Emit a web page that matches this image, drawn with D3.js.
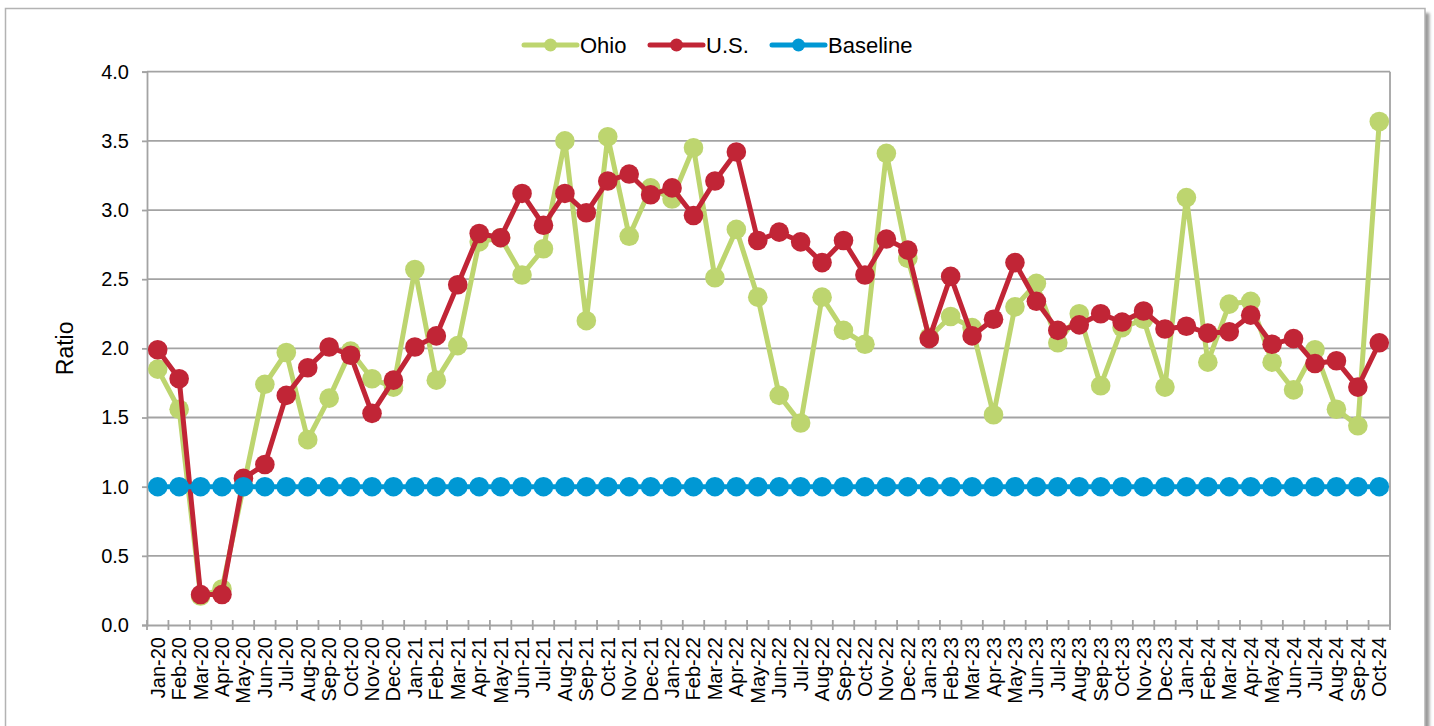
<!DOCTYPE html>
<html>
<head>
<meta charset="utf-8">
<script src="https://cdn.jsdelivr.net/npm/d3@7/dist/d3.min.js"></script>
<style>
  html, body { margin: 0; padding: 0; background: #ffffff; }
  svg { display: block; font-family: "Liberation Sans", Arial, sans-serif; }
</style>
</head>
<body>
<svg id="chart" width="1434" height="726"></svg>
<script>
// Monthly ratio, Jan 2020 – Oct 2024
const months = [
  "Jan-20","Feb-20","Mar-20","Apr-20","May-20","Jun-20","Jul-20","Aug-20","Sep-20","Oct-20","Nov-20","Dec-20",
  "Jan-21","Feb-21","Mar-21","Apr-21","May-21","Jun-21","Jul-21","Aug-21","Sep-21","Oct-21","Nov-21","Dec-21",
  "Jan-22","Feb-22","Mar-22","Apr-22","May-22","Jun-22","Jul-22","Aug-22","Sep-22","Oct-22","Nov-22","Dec-22",
  "Jan-23","Feb-23","Mar-23","Apr-23","May-23","Jun-23","Jul-23","Aug-23","Sep-23","Oct-23","Nov-23","Dec-23",
  "Jan-24","Feb-24","Mar-24","Apr-24","May-24","Jun-24","Jul-24","Aug-24","Sep-24","Oct-24"
];

const ohio = [
  1.85, 1.56, 0.21, 0.26, 1.00, 1.74, 1.97, 1.34, 1.64, 1.98, 1.78, 1.72,
  2.57, 1.77, 2.02, 2.77, 2.80, 2.53, 2.72, 3.50, 2.20, 3.53, 2.81, 3.16,
  3.08, 3.45, 2.51, 2.86, 2.37, 1.66, 1.46, 2.37, 2.13, 2.03, 3.41, 2.65,
  2.08, 2.23, 2.15, 1.52, 2.30, 2.47, 2.04, 2.25, 1.73, 2.15, 2.21, 1.72,
  3.09, 1.90, 2.32, 2.34, 1.90, 1.70, 1.99, 1.56, 1.44, 3.64
];

const us = [
  1.99, 1.78, 0.22, 0.22, 1.06, 1.16, 1.66, 1.86, 2.01, 1.95, 1.53, 1.77,
  2.01, 2.09, 2.46, 2.83, 2.80, 3.12, 2.89, 3.12, 2.98, 3.21, 3.26, 3.11,
  3.16, 2.96, 3.21, 3.42, 2.78, 2.84, 2.77, 2.62, 2.78, 2.53, 2.79, 2.71,
  2.07, 2.52, 2.09, 2.21, 2.62, 2.34, 2.13, 2.17, 2.25, 2.19, 2.27, 2.14,
  2.16, 2.11, 2.12, 2.24, 2.03, 2.07, 1.89, 1.91, 1.72, 2.04
];

const baseline = [
  1.0, 1.0, 1.0, 1.0, 1.0, 1.0, 1.0, 1.0, 1.0, 1.0, 1.0, 1.0,
  1.0, 1.0, 1.0, 1.0, 1.0, 1.0, 1.0, 1.0, 1.0, 1.0, 1.0, 1.0,
  1.0, 1.0, 1.0, 1.0, 1.0, 1.0, 1.0, 1.0, 1.0, 1.0, 1.0, 1.0,
  1.0, 1.0, 1.0, 1.0, 1.0, 1.0, 1.0, 1.0, 1.0, 1.0, 1.0, 1.0,
  1.0, 1.0, 1.0, 1.0, 1.0, 1.0, 1.0, 1.0, 1.0, 1.0
];

const yTicks = [0, 0.5, 1.0, 1.5, 2.0, 2.5, 3.0, 3.5, 4.0];

const seriesNames = ["Ohio", "U.S.", "Baseline"];
const seriesColors = ["#bdd56f", "#c12536", "#0098d4"];
const seriesValues = [ohio, us, baseline];

const series = seriesNames.map((name, i) => ({
  name, color: seriesColors[i], values: seriesValues[i]
}));

const svg = d3.select("#chart");
const W = 1434, H = 726;

// Frame with a soft shadow on the right
const defs = svg.append("defs");
defs.append("filter").attr("id", "shadow")
  .attr("x", "-5%").attr("y", "-5%").attr("width", "110%").attr("height", "110%")
  .append("feGaussianBlur").attr("stdDeviation", 1.6);

svg.append("rect")
  .attr("x", 9.5).attr("y", 13).attr("width", 1420).attr("height", 800)
  .attr("fill", "#9a9a9a").attr("filter", "url(#shadow)");
svg.append("rect")
  .attr("x", 5.5).attr("y", 8.5).attr("width", 1419.5).attr("height", 800)
  .attr("fill", "#ffffff").attr("stroke", "#b3b3b3").attr("stroke-width", 1.5);

const plot = { left: 147, right: 1390, top: 71.7, bottom: 625 };

const x = d3.scaleBand().domain(months).range([plot.left, plot.right]).padding(0);
const y = d3.scaleLinear().domain([0, 4]).range([plot.bottom, plot.top]);

const gridColor = "#a3a3a3";

// Horizontal gridlines
svg.append("g").selectAll("line")
  .data(yTicks.filter(d => d > 0))
  .join("line")
  .attr("x1", plot.left).attr("x2", plot.right)
  .attr("y1", d => y(d)).attr("y2", d => y(d))
  .attr("stroke", gridColor).attr("stroke-width", 1.8);

// Right edge of plot area
svg.append("line")
  .attr("x1", plot.right).attr("x2", plot.right)
  .attr("y1", plot.top).attr("y2", plot.bottom)
  .attr("stroke", gridColor).attr("stroke-width", 1.8);

// Y axis
const yAxis = svg.append("g")
  .attr("transform", `translate(${plot.left},0)`)
  .call(d3.axisLeft(y).tickValues(yTicks).tickFormat(d3.format(".1f")).tickSize(5).tickPadding(13));
yAxis.select(".domain").attr("stroke", gridColor).attr("stroke-width", 1.8);
yAxis.selectAll(".tick line").attr("stroke", gridColor).attr("stroke-width", 1.8);
yAxis.selectAll(".tick text")
  .attr("font-size", 20).attr("fill", "#000")
  .attr("font-family", "'Liberation Sans', Arial, sans-serif");

// X axis line with ticks crossing it at month boundaries
const xAxis = svg.append("g")
  .attr("transform", `translate(0,${plot.bottom})`)
  .call(d3.axisBottom(x).tickSize(0).tickPadding(0));
xAxis.select(".domain").attr("stroke", gridColor).attr("stroke-width", 1.8);
xAxis.selectAll(".tick text")
  .attr("font-size", 20).attr("fill", "#000")
  .attr("font-family", "'Liberation Sans', Arial, sans-serif")
  .attr("text-anchor", "end")
  .attr("transform", "translate(0,12) rotate(-90)")
  .attr("x", 0).attr("y", 0).attr("dy", "0.35em");

const boundaries = months.map(m => x(m)).concat([x(months[months.length - 1]) + x.bandwidth()]);
svg.append("g").selectAll("line")
  .data(boundaries)
  .join("line")
  .attr("x1", d => d).attr("x2", d => d)
  .attr("y1", plot.bottom - 5).attr("y2", plot.bottom + 5)
  .attr("stroke", gridColor).attr("stroke-width", 1.8);

// Y axis title
svg.append("text")
  .attr("transform", `translate(73,${(plot.top + plot.bottom) / 2}) rotate(-90)`)
  .attr("text-anchor", "middle")
  .attr("font-size", 23).attr("fill", "#000")
  .text("Ratio");

// Series
const line = d3.line()
  .x((d, i) => x(months[i]) + x.bandwidth() / 2)
  .y(d => y(d));

series.forEach(s => {
  const g = svg.append("g");
  g.append("path")
    .attr("d", line(s.values))
    .attr("fill", "none")
    .attr("stroke", s.color)
    .attr("stroke-width", 5)
    .attr("stroke-linejoin", "round");
  g.selectAll("circle")
    .data(s.values)
    .join("circle")
    .attr("cx", (d, i) => x(months[i]) + x.bandwidth() / 2)
    .attr("cy", d => y(d))
    .attr("r", 9.8)
    .attr("fill", s.color);
});

// Legend
const legendItems = [
  { x: 524, textX: 580 },
  { x: 650, textX: 706 },
  { x: 772, textX: 828 }
];
const legendY = 45;
const legend = svg.append("g");
series.forEach((s, i) => {
  const li = legendItems[i];
  legend.append("line")
    .attr("x1", li.x).attr("x2", li.x + 53)
    .attr("y1", legendY).attr("y2", legendY)
    .attr("stroke", s.color).attr("stroke-width", 5).attr("stroke-linecap", "round");
  legend.append("circle")
    .attr("cx", li.x + 26.5).attr("cy", legendY).attr("r", 6.5)
    .attr("fill", s.color);
  legend.append("text")
    .attr("x", li.textX).attr("y", legendY).attr("dy", "0.36em")
    .attr("font-size", 22).attr("fill", "#000")
    .text(s.name);
});
</script>
</body>
</html>
